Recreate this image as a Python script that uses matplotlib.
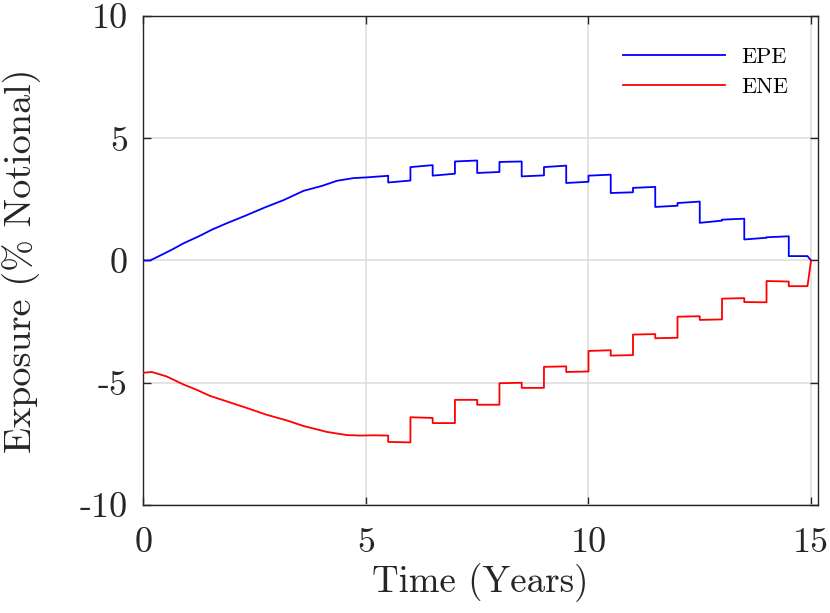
import matplotlib
matplotlib.use("Agg")
import matplotlib.pyplot as plt
import numpy as np

# ---- data ----
epe_t = [0.0, 0.15, 0.375, 0.67, 0.90, 1.27, 1.54, 1.87, 2.29, 2.73, 3.15, 3.60, 4.01, 4.35, 4.72, 5.02, 5.47, 5.5,
         5.5, 6.0, 6.0, 6.5, 6.5, 7.0, 7.0, 7.5, 7.5, 8.0, 8.0, 8.5, 8.5, 9.0, 9.0, 9.5, 9.5, 10.0,
         10.0, 10.5, 10.5, 11.0, 11.0, 11.5, 11.5, 12.0, 12.0, 12.5, 12.5, 13.0, 13.0, 13.5, 13.5, 14.0,
         14.0, 14.5, 14.5, 14.92, 15.0]
epe_v = [0.0, 0.0, 0.20, 0.47, 0.70, 1.01, 1.26, 1.52, 1.83, 2.17, 2.47, 2.85, 3.05, 3.26, 3.37, 3.40, 3.46, 3.47,
         3.19, 3.27, 3.82, 3.90, 3.47, 3.55, 4.05, 4.09, 3.58, 3.62, 4.03, 4.05, 3.44, 3.48, 3.82, 3.88, 3.17, 3.22,
         3.47, 3.51, 2.76, 2.79, 2.97, 3.01, 2.19, 2.24, 2.35, 2.41, 1.54, 1.63, 1.67, 1.71, 0.86, 0.93,
         0.95, 0.99, 0.18, 0.18, 0.0]

ene_t = [0.0, 0.19, 0.52, 0.90, 1.20, 1.50, 1.87, 2.32, 2.77, 3.22, 3.60, 4.12, 4.57, 4.87, 5.17, 5.47, 5.5,
         5.5, 6.0, 6.0, 6.5, 6.5, 7.0, 7.0, 7.5, 7.5, 8.0, 8.0, 8.5, 8.5, 9.0, 9.0, 9.5, 9.5, 10.0,
         10.0, 10.5, 10.5, 11.0, 11.0, 11.5, 11.5, 12.0, 12.0, 12.5, 12.5, 13.0, 13.0, 13.5, 13.5, 14.0,
         14.0, 14.5, 14.5, 14.92, 15.0]
ene_v = [-4.59, -4.56, -4.74, -5.07, -5.29, -5.54, -5.76, -6.03, -6.31, -6.54, -6.77, -7.01, -7.14, -7.16, -7.15, -7.16, -7.16,
         -7.42, -7.44, -6.41, -6.44, -6.65, -6.65, -5.70, -5.70, -5.90, -5.90, -5.02, -5.00, -5.21, -5.21, -4.35, -4.33, -4.56, -4.54,
         -3.70, -3.67, -3.89, -3.87, -3.03, -3.01, -3.18, -3.16, -2.30, -2.28, -2.43, -2.41, -1.56, -1.54, -1.70, -1.71,
         -0.84, -0.86, -1.05, -1.05, 0.0]

series_labels = ["EPE", "ENE"]
x_ticks = [0, 5, 10, 15]
y_ticks = [-10, -5, 0, 5, 10]
x_label = "Time (Years)"
y_label = "Exposure (% Notional)"

# ---- style ----
plt.rcParams['font.family'] = ['cmr10', 'DejaVu Serif']
plt.rcParams['axes.unicode_minus'] = False
plt.rcParams['axes.formatter.use_mathtext'] = True

axcol = '#262626'
fig = plt.figure(figsize=(8.30, 6.13), dpi=100)
ax = fig.add_axes([0.1727, 0.1762, 0.8125, 0.7977])

ax.plot(epe_t, epe_v, color=(0, 0, 1), lw=1.3, label=series_labels[0], zorder=3)
ax.plot(ene_t, ene_v, color=(1, 0, 0), lw=1.3, label=series_labels[1], zorder=3)

ax.set_xlim(0, 15.15)
ax.set_ylim(-10, 10)
ax.set_xticks(x_ticks)
ax.set_yticks(y_ticks)
ax.set_xticklabels([str(v) for v in x_ticks])
ax.set_yticklabels([str(v) for v in y_ticks])

ax.grid(True, color='#dcdcdc', lw=1.1, zorder=0)
ax.set_axisbelow(True)
for s in ax.spines.values():
    s.set_color(axcol)
    s.set_linewidth(1.0)
ax.tick_params(direction='in', length=6, width=1.0, color=axcol,
               top=True, right=True, labelsize=26, labelcolor=axcol)
ax.tick_params(axis='y', pad=11)
ax.tick_params(axis='x', pad=16)

ax.set_xlabel(x_label, fontsize=26.6, color=axcol, labelpad=3)
ax.set_ylabel(y_label, fontsize=27.5, color=axcol, labelpad=28)

leg = ax.legend(loc='upper right', bbox_to_anchor=(0.979, 0.967), frameon=False, fontsize=16,
                handlelength=4.6, handletextpad=0.7, borderaxespad=0.3, labelspacing=0.45)
for t in leg.get_texts():
    t.set_color('black')

fig.savefig("out.png", dpi=100)
